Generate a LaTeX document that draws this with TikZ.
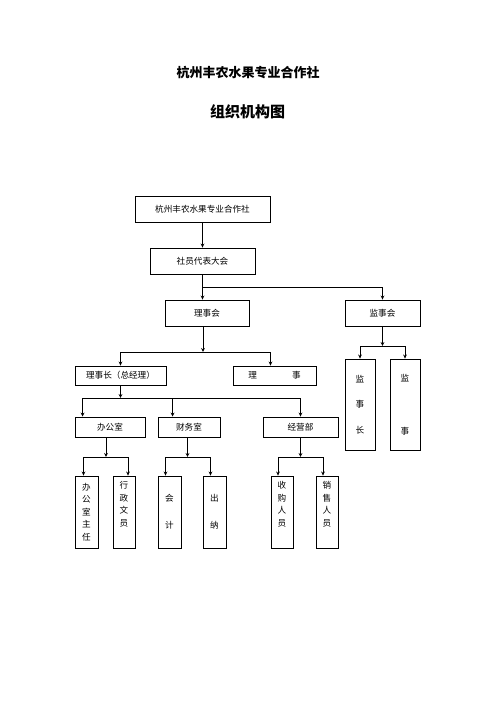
\documentclass[tikz,border=0pt]{standalone}
\usepackage{fontspec}
\newfontfamily\cjk{Noto Sans CJK SC}
\usepackage{tikz}
\usetikzlibrary{arrows.meta,positioning,calc}
\tikzstyle{arrow} = [->,>={Stealth[length=4pt,width=3.8pt]}]
\tikzstyle{orgbox} = [rectangle, draw, inner sep=0pt, text centered, font=\cjk\fontsize{8.6}{12.5}\selectfont]
\tikzstyle{tallbox} = [orgbox, align=center, minimum width=23pt, minimum height=72pt]

\begin{document}
\begin{tikzpicture}[x=1pt,y=-1pt,line width=0.9pt]
\useasboundingbox (0,0) rectangle (496,702);
\node[font=\cjk\bfseries\fontsize{13}{15}\selectfont] (title) at (248,73) {杭州丰农水果专业合作社};
\node[font=\cjk\bfseries\fontsize{15}{18}\selectfont] (subtitle) at (247.5,112) {组织机构图};

\node[orgbox, minimum width=135pt, minimum height=26pt] (coop) at (202.5,209) {杭州丰农水果专业合作社};
\node[orgbox, minimum width=105pt, minimum height=26pt] (dahui) at (202.5,261) {社员代表大会};
\node[orgbox, minimum width=84pt, minimum height=26pt] (lsh) at (207,313) {理事会};
\node[orgbox, minimum width=75pt, minimum height=26pt] (jsh) at (382.5,313) {监事会};

\node[orgbox, minimum width=91pt, minimum height=19pt] (lsz) at (120.5,375.5) {理事长（总经理）};
\node[orgbox, minimum width=83pt, minimum height=19pt] (ls) at (274.5,375.5) {理\hspace{35pt}事};
\node[orgbox, align=center, minimum width=30pt, minimum height=91pt] (jsz) at (360,404.5) {监\\[13pt]事\\[13pt]长};
\node[orgbox, align=center, minimum width=30pt, minimum height=91pt] (js) at (405,404.5) {监\\[41pt]事};

\node[orgbox, minimum width=70pt, minimum height=20pt] (bgs) at (110,427) {办公室};
\node[orgbox, minimum width=62pt, minimum height=20pt] (cws) at (189,427) {财务室};
\node[orgbox, minimum width=75pt, minimum height=20pt] (jyb) at (300.5,427) {经营部};

\node[tallbox] (zr) at (86.5,512) {办\\公\\室\\主\\任};
\node[tallbox, minimum width=22pt] (wy) at (124,512) {行\\政\\文\\员\\\strut};
\node[tallbox] (kj) at (169.5,512) {会\\[14.5pt]计};
\node[tallbox] (cn) at (214.5,512) {出\\[14.5pt]纳};
\node[tallbox, minimum width=22pt] (sg) at (282,512) {收\\购\\人\\员\\\strut};
\node[tallbox, minimum width=22pt] (xs) at (327,512) {销\\售\\人\\员\\\strut};

\draw[arrow] (coop) -- (dahui);

\coordinate (split1) at (202.5,287);
\draw (dahui.south) -- (split1);
\draw[arrow] (split1) -- (split1 |- lsh.north);
\draw[arrow] (split1) -| (jsh.north);

\coordinate (split2) at (203,352);
\draw[arrow] (split2 |- lsh.south) -- (split2);
\draw[arrow] (split2) -| (lsz.north);
\draw[arrow] (split2) -| ([xshift=-4pt]ls.north);

\coordinate (split3) at (382.5,346);
\draw[arrow] (jsh) -- (split3);
\draw[arrow] (split3) -| (jsz.north);
\draw[arrow] (split3) -| (js.north);

\coordinate (split4) at (120.5,398);
\draw[arrow] (lsz) -- (split4);
\draw[arrow] (split4) -| ([xshift=8pt]bgs.north west);
\draw[arrow] (split4) -| ([xshift=15pt]cws.north west);
\draw[arrow] (split4) -| (jyb.north);

\coordinate (split5) at (106,457);
\draw[arrow] (split5 |- bgs.south) -- (split5);
\draw[arrow] (split5) -| ([xshift=-3pt]zr.north);
\draw[arrow] (split5) -| ([xshift=4pt]wy.north);

\coordinate (split6) at (187.5,457);
\draw[arrow] (split6 |- cws.south) -- (split6);
\draw[arrow] (split6) -| ([xshift=-4pt]kj.north);
\draw[arrow] (split6) -| ([xshift=-4pt]cn.north);

\coordinate (split7) at (300.5,457);
\draw[arrow] (jyb) -- (split7);
\draw[arrow] (split7) -| ([xshift=-4pt]sg.north);
\draw[arrow] (split7) -| ([xshift=-4pt]xs.north);
\end{tikzpicture}
\end{document}
